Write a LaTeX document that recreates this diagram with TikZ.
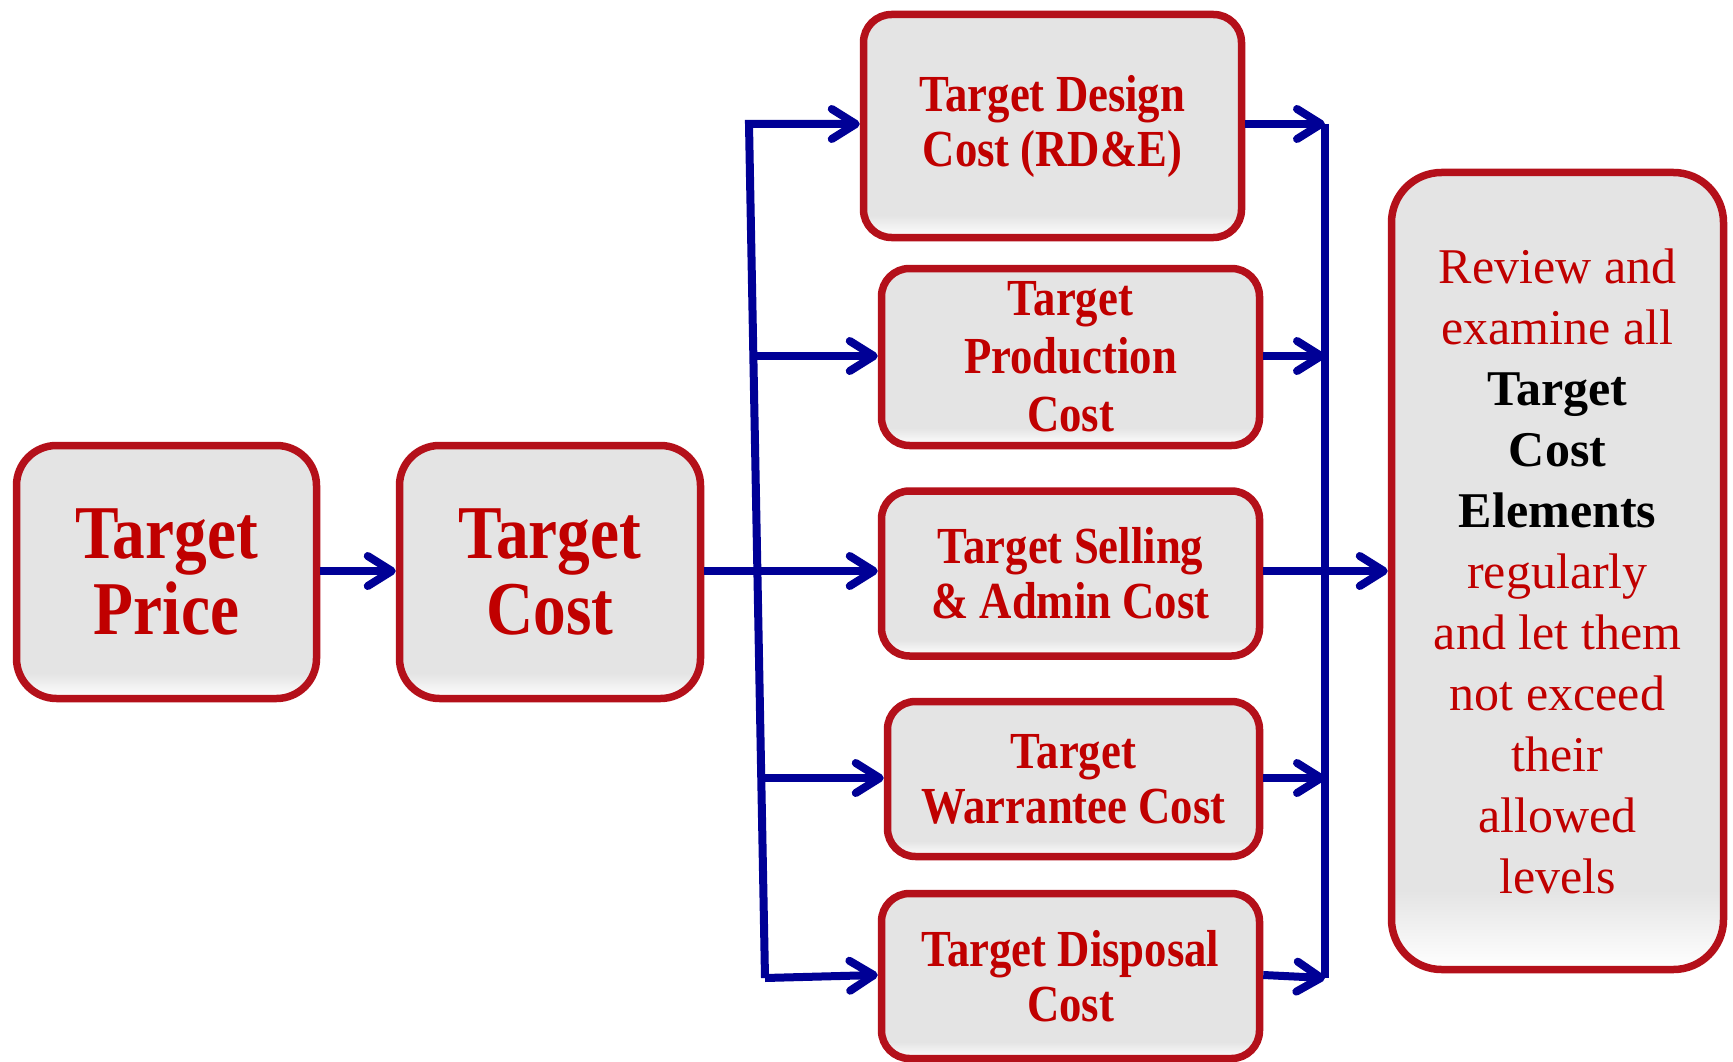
\documentclass[tikz,border=0pt]{standalone}
\usepackage{fontspec}
\setmainfont{Liberation Serif}
\newfontfamily\condfont[FakeStretch=0.86]{Liberation Serif}
\usetikzlibrary{arrows.meta,shadows}
\definecolor{boxred}{RGB}{180,16,26}
\definecolor{txtred}{RGB}{192,0,0}
\definecolor{boxgray}{RGB}{228,228,228}
\definecolor{arrblue}{RGB}{0,0,150}
\pgfdeclareverticalshading{boxshade}{100bp}{color(0bp)=(white); color(25bp)=(white); color(30bp)=(boxgray); color(100bp)=(boxgray)}
\begin{document}
\begin{tikzpicture}[x=1pt,y=-1pt,
  cbox/.style={draw=boxred, line width=7.5pt, rounded corners=28pt, shading=boxshade,
    inner sep=0pt, align=center, text=txtred,
    drop shadow={shadow xshift=2pt, shadow yshift=-2.5pt, opacity=0.4, fill=black}},
  bigtxt/.style={font={\condfont\bfseries\fontsize{76}{76}\selectfont}},
  midtxt/.style={font={\condfont\bfseries\fontsize{52}{55}\selectfont}},
  arr/.style={draw=arrblue, line width=8pt, -{Straight Barb[length=24pt,width=30pt,round]}},
  bus/.style={draw=arrblue, line width=8pt}]
\useasboundingbox (0,0) rectangle (1733,1062);
\fill[white] (0,0) rectangle (1733,1062);

\node[cbox, bigtxt, rounded corners=40pt, minimum width=300pt, minimum height=253pt] (price) at (166.5,572) {Target\\Price};
\node[cbox, bigtxt, rounded corners=40pt, minimum width=301pt, minimum height=253pt] (cost) at (550,572) {Target\\Cost};

\node[cbox, midtxt, minimum width=378pt, minimum height=223pt] (design) at (1052.5,126) {Target Design\\Cost (RD\&E)};
\node[cbox, font={\condfont\bfseries\fontsize{52}{58}\selectfont}, minimum width=378pt, minimum height=177pt] (prod) at (1070.5,357) {Target\\Production\\Cost};
\node[cbox, midtxt, minimum width=378pt, minimum height=165pt] (sell) at (1070.5,573.5) {Target Selling\\\& Admin Cost};
\node[cbox, midtxt, minimum width=372pt, minimum height=155pt] (warr) at (1073.5,779) {Target\\Warrantee Cost};
\node[cbox, midtxt, minimum width=378pt, minimum height=165pt] (disp) at (1070.5,976) {Target Disposal\\Cost};

\node[cbox, rounded corners=50pt, font={\fontsize{50}{61}\selectfont}, minimum width=332pt, minimum height=797pt] (review) at (1557.5,571)
  {Review and\\examine all\\\textbf{\textcolor{black}{Target}}\\\textbf{\textcolor{black}{Cost}}\\\textbf{\textcolor{black}{Elements}}\\regularly\\and let them\\not exceed\\their\\allowed\\levels};

% left bus
\coordinate (lt) at (749,124);
\coordinate (lp) at (753,356);
\coordinate (lw) at (761,778);
\coordinate (lb) at (765,978);
% right bus
\coordinate (rt) at (1325,124);
\coordinate (rp) at (1325,356);
\coordinate (rw) at (1325,778);
\coordinate (rb) at (1325,978);

\draw[arr] (price.east |- 0,571) -- (cost.west |- 0,571);
\draw[arr] (cost.east |- 0,571) -- (sell.west |- 0,571);

\draw[arr] (lb) -- (lt) -- (design.west |- lt);
\draw[arr] (lp) -- (prod.west |- lp);
\draw[arr] (lw) -- (warr.west |- lw);
\draw[arr] (lb) -- (disp.west |- 0,975);

\draw[bus] (rt) -- (rb);
\draw[arr] (design.east |- rt) -- (rt);
\draw[arr] (prod.east |- rp) -- (rp);
\draw[arr] (warr.east |- rw) -- (rw);
\draw[arr] (disp.east |- 0,975) -- (rb);
\draw[arr] (sell.east |- 0,571) -- (review.west |- 0,571);
\end{tikzpicture}
\end{document}
